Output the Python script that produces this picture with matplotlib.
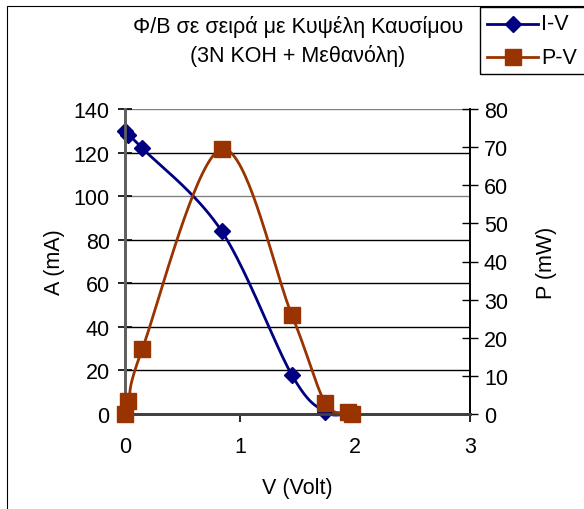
import numpy as np
import matplotlib
matplotlib.use("Agg")
import matplotlib.pyplot as plt
from matplotlib.patches import Rectangle
from matplotlib.lines import Line2D

plt.rcParams['font.family'] = ['Liberation Sans', 'DejaVu Sans']

# Measurements
volts = [0.0, 0.03, 0.15, 0.84, 1.45, 1.74, 1.94, 1.97]
current_ma = [130, 128, 122, 84, 18, 1.0, 0.2, 0.0]
power_mw = [0.0, 3.5, 17, 69.5, 26, 3.0, 0.5, 0.0]

title_lines = ["Φ/Β σε σειρά με Κυψέλη Καυσίμου", "(3N KOH + Μεθανόλη)"]
x_ticks = [0, 1, 2, 3]
left_ticks = list(range(0, 141, 20))
right_ticks = list(range(0, 81, 10))

NAVY = "#000080"
BROWN = "#993300"
FS = 15.5

W, H = 584, 510
fig = plt.figure(figsize=(W / 100, H / 100), dpi=100)
fig.patch.set_facecolor("white")

# chart frame
fig.add_artist(Rectangle((7 / W, -0.1), 1.2, 1 - 7 / H + 0.1, transform=fig.transFigure,
                         fill=False, edgecolor="black", linewidth=0.8))

L, R, T, B = 125, 470, 110, 415
ax = fig.add_axes([L / W, 1 - B / H, (R - L) / W, (B - T) / H])
ax2 = ax.twinx()

ax.set_xlim(0, 3)
ax.set_ylim(0, 140)
ax2.set_ylim(0, 80)


def smooth(xs, ys, xmax, ymax, pw, ph, n=40):
    """Bezier spline through the points, built in pixel space (Catmull-Rom style)."""
    p = np.column_stack([np.asarray(xs) / xmax * pw, np.asarray(ys) / ymax * ph])
    pts = []
    m = len(p)
    for i in range(m - 1):
        p0 = p[i - 1] if i > 0 else p[i]
        p1 = p[i]
        p2 = p[i + 1]
        p3 = p[i + 2] if i + 2 < m else p[i + 1]
        c1 = p1 + (p2 - p0) / 6
        c2 = p2 - (p3 - p1) / 6
        t = np.linspace(0, 1, n)[:, None]
        seg = ((1 - t) ** 3) * p1 + 3 * ((1 - t) ** 2) * t * c1 + 3 * (1 - t) * t ** 2 * c2 + t ** 3 * p2
        pts.append(seg if i == 0 else seg[1:])
    c = np.vstack(pts)
    return c[:, 0] / pw * xmax, c[:, 1] / ph * ymax


pw, ph = R - L, B - T
sx, sy = smooth(volts, current_ma, 3, 140, pw, ph)
ax.plot(sx, sy, color=NAVY, lw=2, zorder=3, clip_on=False)
ax.plot(volts, current_ma, ls="none", marker="D", ms=8.5, color=NAVY, zorder=4, clip_on=False)

px, py = smooth(volts, power_mw, 3, 80, pw, ph)
ax2.plot(px, py, color=BROWN, lw=2, zorder=3, clip_on=False)
ax2.plot(volts, power_mw, ls="none", marker="s", ms=11, color=BROWN, zorder=4, clip_on=False)

# grid lines
for v in left_ticks[1:]:
    ax.axhline(v, color="black" if v not in (100, 140) else "#808080", lw=1, zorder=1)

ax.set_xticks(x_ticks)
ax.set_yticks(left_ticks)
ax2.set_yticks(right_ticks)
ax.tick_params(axis="both", labelsize=FS, direction="out", length=6, width=1.2, colors="black")
ax.tick_params(axis="y", direction="inout", length=10, pad=6)
ax.tick_params(axis="x", pad=10)
ax2.tick_params(axis="y", labelsize=FS, direction="inout", length=12, width=1, pad=4)

for a in (ax, ax2):
    a.spines["top"].set_visible(False)
    a.spines["left"].set_linewidth(2)
    a.spines["left"].set_color("#606060")
    a.spines["bottom"].set_linewidth(2)
    a.spines["bottom"].set_color("#404040")
    a.spines["right"].set_linewidth(1.2)
    a.patch.set_visible(False)

ax.set_ylabel("A (mA)", fontsize=FS, labelpad=6)
ax2.set_ylabel("P (mW)", fontsize=FS, labelpad=20)
ax.set_xlabel("V (Volt)", fontsize=FS, labelpad=14)

fig.text(298 / W, 1 - 27 / H, title_lines[0], ha="center", va="center", fontsize=FS)
fig.text(298 / W, 1 - 56 / H, title_lines[1], ha="center", va="center", fontsize=FS)

# legend
fig.add_artist(Rectangle((480 / W, 1 - 75 / H), 0.5, 67 / H, transform=fig.transFigure,
                         fill=False, edgecolor="black", linewidth=1))
for yy, col, mk, ms, lab in [(25, NAVY, "D", 8.5, "I-V"), (58, BROWN, "s", 11, "P-V")]:
    yf = 1 - yy / H
    fig.add_artist(Line2D([487 / W, 538 / W], [yf, yf], transform=fig.transFigure, color=col, lw=2))
    fig.add_artist(Line2D([512.5 / W], [yf], transform=fig.transFigure, color=col, marker=mk, ms=ms))
    fig.text(541 / W, yf, lab, ha="left", va="center", fontsize=FS)

fig.savefig("out.png", dpi=100)
